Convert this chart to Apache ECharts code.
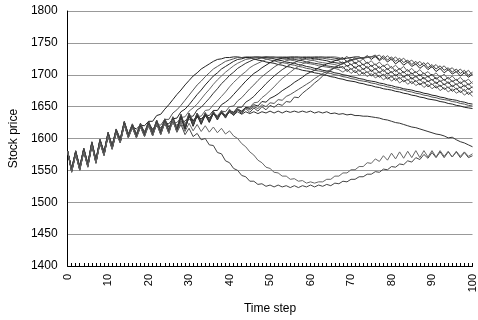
<!DOCTYPE html>
<html>
<head>
<meta charset="utf-8">
<style>
  html, body { margin: 0; padding: 0; background: #fff; }
  #chart { width: 478px; height: 320px; }
</style>
<script src="https://cdn.jsdelivr.net/npm/echarts/dist/echarts.min.js"></script>
</head>
<body>
<div id="chart"></div>
<script>
// time steps 0..100 (category axis)
const timeSteps = Array.from({ length: 101 }, (_, i) => String(i));

// runs that climb to ~1728 and then fall back, ordered by when they take off
const run1 = [1580,1552,1580,1555,1584,1560,1594,1566,1598,1578,1609,1588,1614,1598,1626,1606,
  1618,1615,1621,1620,1627,1627,1636,1638,1646,1653,1661,1669,1676,1684,1691,1698,1703,1709,1713,1717,1721,1724,1725,1727,1727,1728,
  1728,1727,1727,1726,1725,1723,1722,1720,1719,1718,1716,1715,1713,1712,1710,1709,1707,1706,1705,1703,1702,1700,1699,1697,1696,1694,
  1693,1691,1690,1689,1687,1686,1684,1683,1681,1680,1678,1677,1676,1674,1673,1671,1670,1668,1667,1665,1664,1662,1661,1660,1658,1657,1655,1654,1652,1651,1649,1648,1647];
const run2 = [1580,1548,1576,1551,1580,1556,1590,1562,1594,1574,1605,1584,1610,1594,1622,1602,1618,1602,1619,
  1612,1617,1615,1622,1621,1630,1630,1640,1645,1652,1660,1668,1676,1684,1690,1697,1703,1709,1713,1717,1721,1723,1725,1727,1727,1728,
  1728,1727,1727,1726,1725,1723,1722,1720,1719,1718,1716,1715,1713,1712,1710,1709,1707,1706,1705,1703,1702,1700,1699,1697,1696,1694,1693,1691,1690,1689,
  1687,1686,1684,1683,1681,1680,1678,1677,1676,1674,1673,1671,1670,1668,1667,1665,1664,1662,1661,1660,1658,1657,1655,1654,1652,1651];
const run3 = [1580,1551,1579,1554,1583,1559,1593,1565,1597,1577,1608,1587,1613,1597,1625,1605,1621,1605,1622,1607,1625,
  1614,1619,1617,1624,1623,1631,1632,1642,1646,1653,1661,1669,1676,1684,1691,1698,1703,1709,1713,1717,1721,1724,1725,1727,1727,1728,
  1728,1727,1727,1726,1725,1723,1722,1720,1719,1718,1716,1715,1713,1712,1710,1709,1707,1706,1705,1703,1702,
  1700,1699,1697,1696,1694,1693,1691,1690,1689,1687,1686,1684,1683,1681,1680,1678,1677,1676,1674,1673,1671,1670,1668,1667,1665,1664,1662,1661,1660,1658,1657,1655,1654];
const run4 = [1580,1549,1577,1552,1581,1557,1591,1563,1595,1575,1606,1585,1611,1595,1623,1603,1619,1603,1620,1605,1623,1606,1625,
  1616,1621,1619,1626,1625,1633,1634,1643,1648,1654,1662,1670,1677,1685,1692,1698,1704,1709,1714,1718,1721,1724,1725,1727,1728,1728,
  1728,1727,1727,1726,1725,1724,1723,1722,1720,1719,1718,1717,1716,1714,1713,1712,1711,1710,1708,
  1704,1709,1702,1707,1699,1704,1697,1702,1695,1699,1692,1697,1690,1695,1687,1692,1685,1690,1683,1687,1680,1685,1678,1683,1675,1680,1673,1678,1671,1675,1668,1673,1666];
const run5 = [1580,1553,1581,1556,1585,1561,1595,1567,1599,1579,1610,1589,1615,1599,1627,1607,1623,1607,1624,1609,1627,1610,1629,1612,1631,
  1618,1623,1621,1627,1627,1635,1635,1645,1649,1656,1663,1671,1678,1686,1692,1699,1704,1710,1714,1718,1721,1724,1725,1727,1728,1728,
  1728,1727,1727,1726,1725,1724,1723,1722,1720,1719,1718,1717,1716,1714,1713,1712,1711,
  1713,1705,1710,1703,1708,1701,1705,1698,1703,1696,1701,1693,1698,1691,1696,1689,1693,1686,1691,1684,1689,1681,1686,1679,1684,1677,1681,1674,1679,1672,1677,1669,1674];
const run6 = [1580,1547,1575,1550,1579,1555,1589,1561,1593,1573,1604,1583,1609,1593,1621,1601,1617,1601,1618,1603,1621,1604,1623,1606,1625,1608,1629,1610,
  1627,1624,1630,1628,1635,1635,1644,1645,1653,1659,1666,1673,1681,1688,1694,1700,1705,1711,1715,1718,1721,1724,1725,1727,1728,1728,
  1728,1727,1727,1726,1725,1724,1723,1722,1720,1719,1718,1717,1716,1714,
  1710,1715,1708,1713,1705,1710,1703,1708,1701,1705,1698,1703,1696,1701,1693,1698,1691,1696,1689,1693,1686,1691,1684,1689,1681,1686,1679,1684,1677,1681,1674,1679,1672];
const run7 = [1580,1550,1578,1553,1582,1558,1592,1564,1596,1576,1607,1586,1612,1596,1624,1604,1620,1604,1621,1606,1624,1607,1626,1609,1628,1611,1632,1613,1636,1616,1638,
  1628,1633,1631,1637,1636,1644,1644,1653,1657,1662,1669,1676,1683,1690,1696,1702,1706,1711,1715,1719,1722,1724,1726,1727,1728,1728,
  1728,1727,1727,1726,1725,1724,1723,1722,1720,1719,1718,
  1720,1713,1717,1710,1715,1708,1713,1705,1710,1703,1708,1701,1705,1698,1703,1696,1701,1693,1698,1691,1696,1689,1693,1686,1691,1684,1689,1681,1686,1679,1684,1677,1681];
const run8 = [1580,1552,1580,1555,1584,1560,1594,1566,1598,1578,1609,1588,1614,1598,1626,1606,1622,1606,1623,1608,1626,1609,1628,1611,1630,1613,1634,1615,1638,1618,1640,1623,1640,1626,
  1635,1632,1638,1636,1643,1642,1650,1651,1659,1664,1671,1678,1684,1691,1697,1702,1707,1712,1716,1719,1722,1724,1726,1727,1728,1728,
  1728,1727,1727,1726,1725,1724,1723,1722,
  1717,1722,1715,1720,1713,1717,1710,1715,1708,1713,1705,1710,1703,1708,1701,1705,1698,1703,1696,1701,1693,1698,1691,1696,1689,1693,1686,1691,1684,1689,1681,1686,1679];
const run9 = [1580,1548,1576,1551,1580,1556,1590,1562,1594,1574,1605,1584,1610,1594,1622,1602,1618,1602,1619,1604,1622,1605,1624,1607,1626,1609,1630,1611,1634,1614,1636,1619,1636,1622,1637,1625,1639,
  1634,1639,1637,1643,1641,1649,1649,1657,1661,1666,1673,1679,1686,1692,1698,1703,1708,1712,1716,1719,1722,1724,1726,1727,1728,1728,
  1728,1727,1727,1726,1725,
  1727,1720,1725,1717,1722,1715,1720,1713,1717,1710,1715,1708,1713,1705,1710,1703,1708,1701,1705,1698,1703,1696,1701,1693,1698,1691,1696,1689,1693,1686,1691,1684,1689];
const run10 = [1580,1551,1579,1554,1583,1559,1593,1565,1597,1577,1608,1587,1613,1597,1625,1605,1621,1605,1622,1607,1625,1608,1627,1610,1629,1612,1633,1614,1637,1617,1639,1622,1639,1625,1640,1628,1642,1631,1643,1634,
  1642,1639,1645,1642,1649,1649,1656,1657,1664,1669,1675,1681,1688,1694,1699,1704,1709,1713,1717,1720,1722,1725,1726,1727,1728,1728,
  1728,1727,
  1724,1729,1722,1727,1720,1725,1717,1722,1715,1720,1713,1717,1710,1715,1708,1713,1705,1710,1703,1708,1701,1705,1698,1703,1696,1701,1693,1698,1691,1696,1689,1693,1686];
// slower climbers
const run11 = [1580,1549,1577,1552,1581,1557,1591,1563,1595,1575,1606,1585,1611,1595,1623,1603,1619,1603,1620,1605,1623,1606,1625,1608,1627,1610,1631,1612,1635,1615,1637,1620,1637,1623,1638,1626,1640,1629,1641,1632,
  1644,1641,1646,1643,1649,1647,1653,1651,1658,1657,
  1663,1666,1670,1675,1679,1683,1688,1692,1696,1701,1704,1707,1711,1714,1717,1719,1722,1724,1725,1726,1727,1728,1728,
  1725,1730,1724,1729,1722,1727,1720,1725,1717,1722,1715,1720,1713,1717,1710,1715,1708,1713,1705,1710,1703,1708,1701,1705,1698,1703,1696,1701];
const run12 = [1580,1552,1580,1555,1584,1560,1594,1566,1598,1578,1609,1588,1614,1598,1626,1606,1622,1606,1623,1608,1626,1609,1628,1611,1630,1613,1634,1615,1638,1618,1640,1623,1640,1626,1641,1629,1643,1632,1644,1635,1646,1638,1647,1641,
  1648,1645,1650,1647,1653,1650,1656,1655,1661,1660,
  1666,1669,1673,1677,1681,1685,1689,1694,1698,1702,1705,1708,1712,1715,1717,1720,1722,1724,1726,1726,1727,1728,1728,
  1731,1724,1730,1723,1728,1721,1726,1719,1723,1716,1721,1714,1719,1711,1716,1709,1714,1707,1711,1704,1709,1702,1707,1699];
const run13 = [1580,1550,1578,1553,1582,1558,1592,1564,1596,1576,1607,1586,1612,1596,1624,1604,1620,1604,1621,1606,1624,1607,1626,1609,1628,1611,1632,1613,1636,1616,1638,1621,1638,1624,1639,1627,1641,1630,1642,1633,1644,1636,1645,1639,1647,1641,1648,1643,1650,1645,
  1652,1649,1654,1652,1658,1657,1665,1664,1671,1676,1681,1687,1692,1698,1702,1707,1711,1715,1718,1721,1723,1725,1726,1727,1728,1728,
  1731,1724,1730,1723,1728,1721,1726,1719,1723,1716,1721,1714,1719,1711,1716,1709,1714,1707,1711,1704,1709,1702,1707,1699,1704];

// run that stays flat near 1640, then drifts down
const runFlat = [1580,1549,1577,1552,1581,1557,1591,1563,1595,1575,1606,1585,1611,1595,1623,1603,1619,1603,1620,1605,1623,1606,1625,1608,1627,1610,1631,1612,1635,1615,
  1634,1627,1636,1630,1637,1632,1639,1634,1640,1636,1641,1637,1642,1638,1642,1639,1642,1639,1642,1640,1643,1640,1643,1640,1643,1641,1643,1641,1643,1641,1643,1640,1642,1640,1642,1639,
  1640,1638,1639,1637,1638,1636,1636,1635,1635,
  1634,1633,1632,1630,1629,1627,1625,1624,1622,1620,1618,1617,1615,1613,1611,1609,1607,1606,1604,1601,1602,1598,1595,1593,1590,1587];

// runs that crash to ~1525 and recover
const runCrashLate = [1580,1547,1575,1550,1579,1555,1589,1561,1593,1573,1604,1583,1609,1593,1621,1601,1617,1601,1618,1603,1621,1604,1623,1606,1625,1608,1629,1610,
  1626,1611,1624,1612,1622,1611,1620,1610,1618,1609,1616,1607,1612,1604,
  1600,1592,1587,1579,1574,1566,1562,1555,1553,1547,1546,1541,1541,1536,1537,1533,1534,1530,1532,1530,1532,
  1532,1536,1536,1541,1541,1546,1546,1551,1551,1556,1556,1562,1561,1568,1564,1573,1566,1577,1568,1579,1569,1580,1570,1581,1570,1581,1571,1581,1571,1581,1572,1580,1571,1580,1572,1579,1572,1576];
const runCrashEarly = [1580,1551,1579,1554,1583,1559,1593,1565,1597,1577,1608,1587,1613,1597,1625,1605,1621,1605,1622,1607,1625,1608,1627,1610,1629,1612,1630,1610,
  1622,1606,1616,1603,1608,1598,1600,1590,1589,1578,1576,1565,1562,1553,1550,1542,1540,1533,1533,1528,
  1529,1525,1527,1524,1527,1524,1526,1523,1526,1523,1526,1524,1527,1524,1527,1525,1528,1526,1530,1529,
  1533,1532,1536,1536,1540,1540,1544,1544,1548,1547,1552,1551,1556,1555,1560,1559,1565,1563,1570,1567,
  1575,1569,1578,1570,1579,1570,1579,1571,1579,1570,1578,1570,1573];

const runs = [run1, run2, run3, run4, run5, run6, run7, run8, run9, run10, run11, run12, run13, runFlat, runCrashEarly, runCrashLate];
const runColors = ['#222', '#555', '#222', '#666', '#333', '#666', '#222', '#555', '#333', '#666', '#222', '#555', '#444', '#333', '#444', '#666'];

const font = 'Liberation Sans, Arial, sans-serif';

const chart = echarts.init(document.getElementById('chart'));
chart.setOption({
  animation: false,
  backgroundColor: '#fff',
  grid: { left: 64, right: 5, top: 11, bottom: 51 },
  xAxis: {
    type: 'category',
    data: timeSteps,
    boundaryGap: false,
    name: 'Time step',
    nameLocation: 'middle',
    nameGap: 37,
    nameTextStyle: { fontSize: 12, color: '#000', fontFamily: font },
    axisLine: { lineStyle: { color: '#000', width: 1 } },
    axisTick: { interval: 0, inside: true, length: 3, lineStyle: { color: '#000' } },
    axisLabel: { interval: 9, rotate: 90, margin: 8, fontSize: 11, color: '#000', fontFamily: font },
    splitLine: { show: false }
  },
  yAxis: {
    type: 'value',
    min: 1400,
    max: 1800,
    interval: 50,
    name: 'Stock price',
    nameLocation: 'middle',
    nameGap: 38,
    nameTextStyle: { fontSize: 12, color: '#000', fontFamily: font },
    axisLine: { show: true, lineStyle: { color: '#000', width: 1 } },
    axisTick: { show: false },
    axisLabel: { margin: 10, fontSize: 12, color: '#000', fontFamily: font, formatter: (v) => String(v) },
    splitLine: { lineStyle: { color: '#999', width: 1 } }
  },
  series: runs.map((d, i) => ({
    type: 'line',
    data: d,
    showSymbol: false,
    silent: true,
    lineStyle: { width: 1, color: runColors[i] },
    itemStyle: { color: runColors[i] }
  }))
});
</script>
</body>
</html>
